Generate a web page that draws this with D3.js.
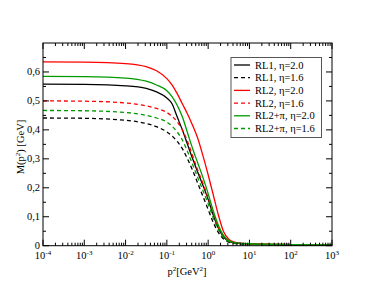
<!DOCTYPE html>
<html><head><meta charset="utf-8">
<script src="https://cdn.jsdelivr.net/npm/d3@7"></script>
<style>body{margin:0;background:#fff}svg{display:block}text{font-family:"Liberation Serif","DejaVu Serif",serif;fill:#000}</style>
</head><body><svg id="c" width="374" height="289"></svg>
<script>
// log10(p^2) sample points
const logP2 = [-4,-3,-2,-1.5,-1.25,-1,-0.875,-0.75,-0.625,-0.5,-0.375,-0.25,-0.125,0,0.125,0.25,0.375,0.5,0.625,0.75,1,1.5,2,3];
const rl1_20 = [0.558,0.557,0.552,0.543,0.531,0.51,0.49,0.445,0.40,0.35,0.30,0.253,0.208,0.16,0.105,0.06,0.03,0.016,0.01,0.008,0.006,0.004,0.003,0.002];
const rl1_16 = [0.441,0.44,0.433,0.422,0.411,0.393,0.379,0.36,0.335,0.30,0.26,0.215,0.17,0.125,0.08,0.045,0.023,0.012,0.008,0.006,0.005,0.003,0.002,0.002];
const rl2_20 = [0.635,0.634,0.629,0.618,0.604,0.577,0.555,0.525,0.49,0.455,0.415,0.37,0.31,0.245,0.175,0.105,0.048,0.022,0.013,0.009,0.007,0.005,0.004,0.003];
const rl2_16 = [0.5,0.499,0.493,0.483,0.474,0.46,0.447,0.428,0.40,0.36,0.31,0.26,0.215,0.165,0.11,0.063,0.032,0.017,0.011,0.008,0.006,0.004,0.003,0.002];
const rlpi_20 = [0.585,0.584,0.579,0.568,0.555,0.535,0.515,0.485,0.445,0.39,0.335,0.285,0.235,0.18,0.12,0.07,0.035,0.018,0.011,0.009,0.007,0.005,0.004,0.003];
const rlpi_16 = [0.467,0.466,0.46,0.45,0.441,0.427,0.413,0.393,0.365,0.325,0.28,0.235,0.19,0.145,0.095,0.055,0.028,0.015,0.01,0.007,0.005,0.004,0.003,0.002];
const seriesNames = ["RL1, η=2.0","RL1, η=1.6","RL2, η=2.0","RL2, η=1.6","RL2+π, η=2.0","RL2+π, η=1.6"];
const seriesValues = [rl1_20, rl1_16, rl2_20, rl2_16, rlpi_20, rlpi_16];
const seriesColors = ["#000000","#000000","#ff0000","#ff0000","#009a00","#009a00"];
const seriesDashed = [false,true,false,true,false,true];
const xTickExps = [-4,-3,-2,-1,0,1,2,3];
const yTicks = [0,0.1,0.2,0.3,0.4,0.5,0.6];
const yTickLabels = ["0","0,1","0,2","0,3","0,4","0,5","0,6"];

const svg = d3.select("#c");
const L = 43, R = 332, T = 43, B = 245.7;
const x = d3.scaleLog().domain([1e-4, 1e3]).range([L, R]);
const y = d3.scaleLinear().domain([0, 0.7]).range([B, T]);

// curves
const line = d3.line().x(d => x(Math.pow(10, d[0]))).y(d => y(d[1])).curve(d3.curveMonotoneX);
seriesValues.forEach((vals, i) => {
  svg.append("path").datum(logP2.map((l, j) => [l, vals[j]]))
    .attr("d", line).attr("fill", "none")
    .attr("stroke", seriesColors[i]).attr("stroke-width", 1.3)
    .attr("stroke-dasharray", seriesDashed[i] ? "4,3" : null);
});

// frame
svg.append("rect").attr("x", L).attr("y", T).attr("width", R - L).attr("height", B - T)
  .attr("fill", "none").attr("stroke", "#000").attr("stroke-width", 1);

// x ticks (inward, bottom and top)
const minorX = [];
for (let e = -4; e < 3; e++) for (let k = 2; k <= 9; k++) minorX.push(k * Math.pow(10, e));
const gx = svg.append("g");
xTickExps.forEach(e => {
  const xv = x(Math.pow(10, e));
  gx.append("line").attr("x1", xv).attr("x2", xv).attr("y1", B).attr("y2", B - 6).attr("stroke", "#000");
  gx.append("line").attr("x1", xv).attr("x2", xv).attr("y1", T).attr("y2", T + 6).attr("stroke", "#000");
  const t = gx.append("text").attr("x", xv).attr("y", 259).attr("text-anchor", "middle").attr("font-size", 10.5);
  t.append("tspan").text("10");
  t.append("tspan").attr("dy", -4.5).attr("font-size", 7).text(String(e));
});
minorX.forEach(v => {
  const xv = x(v);
  gx.append("line").attr("x1", xv).attr("x2", xv).attr("y1", B).attr("y2", B - 3).attr("stroke", "#000");
  gx.append("line").attr("x1", xv).attr("x2", xv).attr("y1", T).attr("y2", T + 3).attr("stroke", "#000");
});

// y ticks
const gy = svg.append("g");
yTicks.forEach((v, i) => {
  const yv = y(v);
  gy.append("line").attr("x1", L).attr("x2", L + 6).attr("y1", yv).attr("y2", yv).attr("stroke", "#000");
  gy.append("line").attr("x1", R).attr("x2", R - 6).attr("y1", yv).attr("y2", yv).attr("stroke", "#000");
  gy.append("text").attr("x", 40).attr("y", yv + 3.5).attr("text-anchor", "end").attr("font-size", 10.5).text(yTickLabels[i]);
});
d3.range(0.05, 0.7, 0.1).forEach(v => {
  const yv = y(v);
  gy.append("line").attr("x1", L).attr("x2", L + 3).attr("y1", yv).attr("y2", yv).attr("stroke", "#000");
  gy.append("line").attr("x1", R).attr("x2", R - 3).attr("y1", yv).attr("y2", yv).attr("stroke", "#000");
});

// axis titles
const xt = svg.append("text").attr("x", 187).attr("y", 275).attr("text-anchor", "middle").attr("font-size", 10.5);
xt.append("tspan").text("p");
xt.append("tspan").attr("dy", -4.5).attr("font-size", 7).text("2");
xt.append("tspan").attr("dy", 4.5).text("[GeV");
xt.append("tspan").attr("dy", -4.5).attr("font-size", 7).text("2");
xt.append("tspan").attr("dy", 4.5).text("]");

const yt = svg.append("text").attr("transform", "translate(24,147) rotate(-90)").attr("text-anchor", "middle").attr("font-size", 10.5);
yt.append("tspan").text("M(p");
yt.append("tspan").attr("dy", -4.5).attr("font-size", 7).text("2");
yt.append("tspan").attr("dy", 4.5).text(") [GeV]");

// legend
const lg = svg.append("g");
lg.append("rect").attr("x", 231).attr("y", 57.5).attr("width", 90.5).attr("height", 80)
  .attr("fill", "#fff").attr("stroke", "#555").attr("stroke-width", 1);
seriesNames.forEach((n, i) => {
  const yy = 65 + i * 12.7;
  lg.append("line").attr("x1", 234).attr("x2", 250).attr("y1", yy).attr("y2", yy)
    .attr("stroke", seriesColors[i]).attr("stroke-width", 1.3)
    .attr("stroke-dasharray", seriesDashed[i] ? "4,3" : null);
  lg.append("text").attr("x", 255).attr("y", yy + 3.5).attr("font-size", 10.5).text(n);
});
</script></body></html>
